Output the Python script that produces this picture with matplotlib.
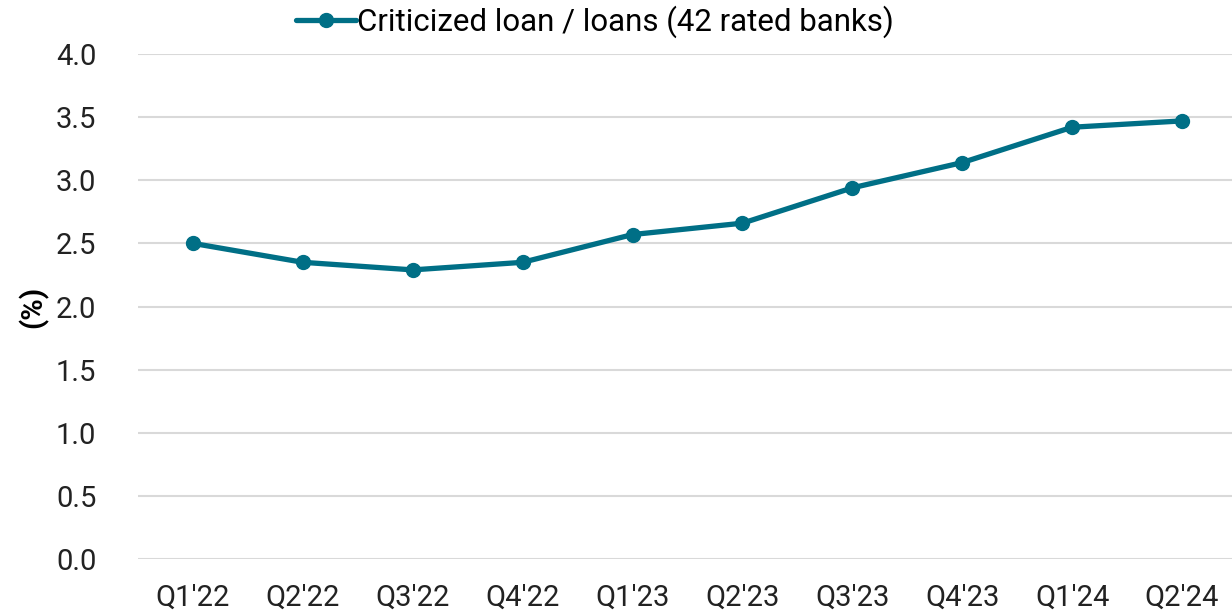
import matplotlib.pyplot as plt
import numpy as np

# criticized loans ratio, 42 rated banks
quarters = ["Q1'22", "Q2'22", "Q3'22", "Q4'22", "Q1'23", "Q2'23",
            "Q3'23", "Q4'23", "Q1'24", "Q2'24"]
criticized = [2.50, 2.35, 2.29, 2.35, 2.57, 2.66, 2.94, 3.14, 3.42, 3.47]
yticks = [0.0, 0.5, 1.0, 1.5, 2.0, 2.5, 3.0, 3.5, 4.0]

plt.rcParams['font.family'] = ['Roboto', 'DejaVu Sans']

fig = plt.figure(figsize=(12.32, 6.14), dpi=100)
ax = fig.add_axes([138 / 1232, 1 - 559 / 614, 1099 / 1232, 505 / 614])

x = np.arange(len(quarters))
ax.plot(x, criticized, color='#006f86', lw=3.8, marker='o', markersize=10,
        label='Criticized loan / loans (42 rated banks)', solid_capstyle='round')

ax.set_xlim(-0.5, len(quarters) - 0.5)
ax.set_ylim(0, 4.0)
ax.set_yticks(yticks)
ax.set_yticklabels([f'{v:.1f}' for v in yticks])
ax.set_xticks(x)
ax.set_xticklabels(quarters)
ax.tick_params(axis='both', length=0, labelsize=21, colors='#222222')
ax.tick_params(axis='y', pad=30)
ax.tick_params(axis='x', pad=18)
ax.grid(axis='y', color='#d9d9d9', lw=1.5)
ax.set_axisbelow(True)
for s in ax.spines.values():
    s.set_visible(False)

ax.set_ylabel('(%)', fontsize=21, fontweight='bold')
ax.yaxis.set_label_coords(-0.082, 0.5)

ax.legend(loc='lower center', bbox_to_anchor=(0.416, 0.975), frameon=False,
          handlelength=1.9, handletextpad=0.05,
          prop={'family': 'Roboto', 'size': 22.5})

fig.savefig('out.png', dpi=100)
